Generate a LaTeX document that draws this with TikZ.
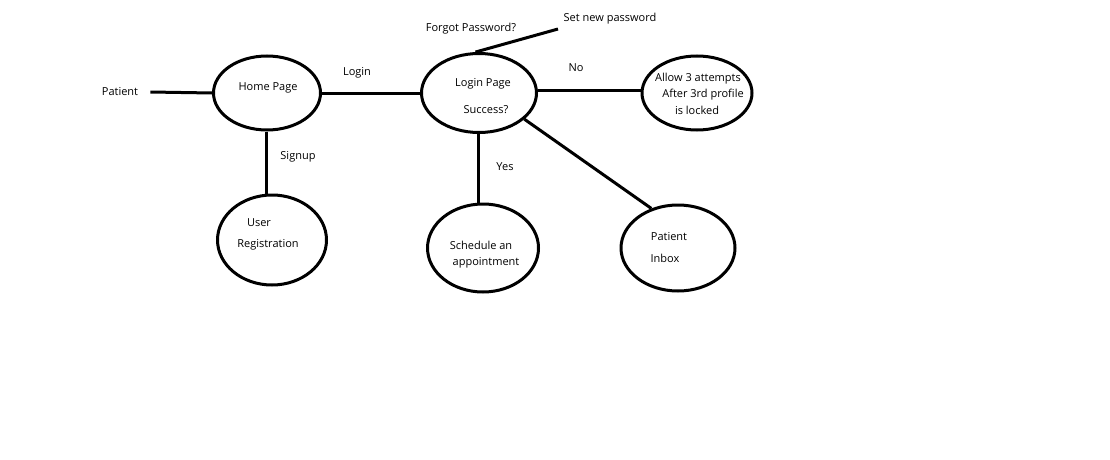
\documentclass[tikz,border=0pt]{standalone}
\usepackage{fontspec}
\setmainfont{Open Sans}
\usetikzlibrary{shapes.geometric}
\begin{document}
\begin{tikzpicture}[x=1pt,y=-1pt,
  bubble/.style={draw=black,line width=3pt,ellipse,inner sep=0pt},
  txt/.style={inner sep=0pt,font=\fontsize{11}{13}\selectfont,text=black},
  conn/.style={line width=3pt}]
\useasboundingbox[fill=white] (0,0) rectangle (1110,460);
% ellipses
\node[bubble,minimum width=107pt,minimum height=74pt] (home) at (267,93) {};
\node[bubble,minimum width=115pt,minimum height=79pt] (login) at (479,93) {};
\node[bubble,minimum width=110pt,minimum height=74pt] (allow) at (697,93) {};
\node[bubble,minimum width=109pt,minimum height=90pt] (ureg) at (272,240) {};
\node[bubble,minimum width=111pt,minimum height=88pt] (sched) at (483,248) {};
\node[bubble,minimum width=114pt,minimum height=86pt] (inbox) at (678,248) {};
% texts inside
\node[txt] (thome) at (268,88) {Home Page};
\node[txt] (tlogin1) at (483,84) {Login Page};
\node[txt] (tlogin2) at (486,110) {Success?};
\node[txt] (tallow1) at (698,79) {Allow 3 attempts};
\node[txt] (tallow2) at (703,95) {After 3rd profile};
\node[txt] (tallow3) at (697,110) {is locked};
\node[txt] (tureg1) at (259,223) {User};
\node[txt] (tureg2) at (268,245) {Registration};
\node[txt] (tsched1) at (481,245) {Schedule an};
\node[txt] (tsched2) at (486,263) {appointment};
\node[txt] (tinbox1) at (669,237) {Patient};
\node[txt] (tinbox2) at (665,258) {Inbox};
% outside labels
\node[txt] (patient) at (120,92) {Patient};
\node[txt] (llogin) at (357,73) {Login};
\node[txt] (lno) at (576,68) {No};
\node[txt] (lsignup) at (298,157) {Signup};
\node[txt] (lyes) at (505,167) {Yes};
\node[txt] (lforgot) at (471,29) {Forgot Password?};
\node[txt] (lsetnew) at (610,19) {Set new password};
\coordinate (fpend) at (558,29);
% connectors
\draw[conn] ([xshift=12pt]patient.east) -- (home.west);
\draw[conn] (home.east) -- (login.west);
\draw[conn] ([yshift=3pt]login.east) -- ([yshift=3pt]allow.west);
\draw[conn] ([xshift=-1pt]home.south) -- ([xshift=-1pt]home.south |- ureg.north);
\draw[conn] ([xshift=-1pt]login.south) -- ([xshift=-1pt]login.south |- sched.north);
\draw[conn] (login.-30) -- (inbox.124);
\draw[conn] (login.95) -- (fpend);
\end{tikzpicture}
\end{document}
